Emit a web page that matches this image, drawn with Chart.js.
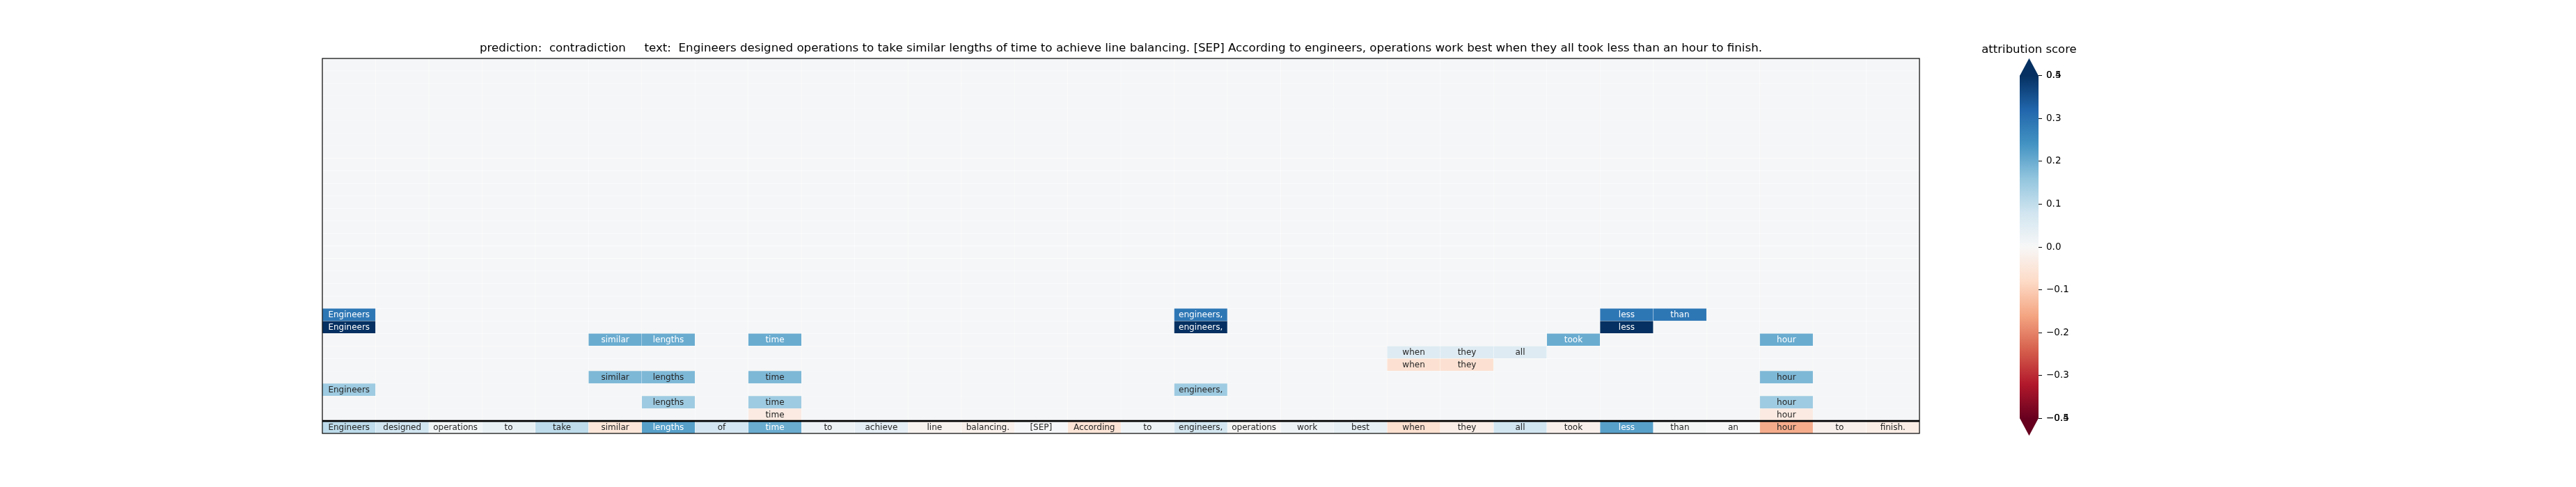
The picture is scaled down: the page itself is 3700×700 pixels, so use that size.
<!DOCTYPE html>
<html>
<head>
<meta charset="utf-8">
<script src="https://cdn.jsdelivr.net/npm/chart.js@4.4.1/dist/chart.umd.min.js"></script>
<style>
  body { margin: 0; background: #fff; }
  #main { position: absolute; left: 0; top: 0; }
  #cbar { position: absolute; left: 2800px; top: 0; }
</style>
</head>
<body>
<canvas id="main" width="3700" height="700"></canvas>
<canvas id="cbar" width="300" height="700"></canvas>
<script>
const tokens = ["Engineers", "designed", "operations", "to", "take", "similar", "lengths", "of", "time", "to",
  "achieve", "line", "balancing.", "[SEP]", "According", "to", "engineers,", "operations", "work", "best",
  "when", "they", "all", "took", "less", "than", "an", "hour", "to", "finish."];

const _ = null; // empty cell (no token shown)

// row 0 = the sentence itself, rows above = the highlighted spans
const row0 = [0.105, 0.08, 0.01, 0.03, 0.105, -0.05, 0.22, 0.074, 0.2, 0.021,
  0.04, -0.014, -0.02, 0.004, -0.055, 0.02, 0.075, -0.005, 0.022, 0.035,
  -0.065, -0.025, 0.08, -0.022, 0.22, 0.006, 0.0, -0.15, -0.022, -0.03];
const row1 = [_, _, _, _, _, _, _, _, -0.037, _, _, _, _, _, _, _, _, _, _, _, _, _, _, _, _, _, _, -0.037, _, _];
const row2 = [_, _, _, _, _, _, 0.145, _, 0.145, _, _, _, _, _, _, _, _, _, _, _, _, _, _, _, _, _, _, 0.145, _, _];
const row3 = [0.145, _, _, _, _, _, _, _, _, _, _, _, _, _, _, _, 0.145, _, _, _, _, _, _, _, _, _, _, _, _, _];
const row4 = [_, _, _, _, _, 0.18, 0.18, _, 0.18, _, _, _, _, _, _, _, _, _, _, _, _, _, _, _, _, _, _, 0.18, _, _];
const row5 = [_, _, _, _, _, _, _, _, _, _, _, _, _, _, _, _, _, _, _, _, -0.062, -0.062, _, _, _, _, _, _, _, _];
const row6 = [_, _, _, _, _, _, _, _, _, _, _, _, _, _, _, _, _, _, _, _, 0.053, 0.053, 0.053, _, _, _, _, _, _, _];
const row7 = [_, _, _, _, _, 0.2, 0.2, _, 0.2, _, _, _, _, _, _, _, _, _, _, _, _, _, _, 0.2, _, _, _, 0.2, _, _];
const row8 = [0.4, _, _, _, _, _, _, _, _, _, _, _, _, _, _, _, 0.4, _, _, _, _, _, _, _, 0.4, _, _, _, _, _];
const row9 = [0.29, _, _, _, _, _, _, _, _, _, _, _, _, _, _, _, 0.29, _, _, _, _, _, _, _, 0.29, 0.29, _, _, _, _];
const heatRows = [row0, row1, row2, row3, row4, row5, row6, row7, row8, row9];
const rowCount = 30;
const blankScore = 0.005;

const colorMin = -0.4;
const colorMax = 0.4;
const colorTicks = [-0.5, -0.4, -0.3, -0.2, -0.1, 0.0, 0.1, 0.2, 0.3, 0.4, 0.5];

const titleText = "prediction:  contradiction     text:  " + tokens.join(" ");

const rdbu = ["#67001f", "#b2182b", "#d6604d", "#f4a582", "#fddbc7", "#f7f7f7",
  "#d1e5f0", "#92c5de", "#4393c3", "#2166ac", "#053061"];
const rdbuRgb = rdbu.map((h) => [1, 3, 5].map((i) => parseInt(h.slice(i, i + 2), 16)));

function scoreColor(v) {
  let t = (v - colorMin) / (colorMax - colorMin);
  t = Math.min(1, Math.max(0, t));
  const pos = t * (rdbu.length - 1);
  const i = Math.min(Math.floor(pos), rdbu.length - 2);
  const f = pos - i;
  const a = rdbuRgb[i], b = rdbuRgb[i + 1];
  return [0, 1, 2].map((k) => a[k] + (b[k] - a[k]) * f);
}
const css = (c) => "rgb(" + c.map(Math.round).join(",") + ")";

// same rule seaborn uses for annotation colour
function textColor(c) {
  const lin = c.map((x) => {
    x = x / 255;
    return x <= 0.03928 ? x / 12.92 : Math.pow((x + 0.055) / 1.055, 2.4);
  });
  const lum = 0.2126 * lin[0] + 0.7152 * lin[1] + 0.0722 * lin[2];
  return lum > 0.408 ? "#262626" : "#ffffff";
}

const datasets = [];
for (let r = 0; r < rowCount; r++) {
  const scores = heatRows[r] || [];
  datasets.push({
    label: "row " + r,
    data: tokens.map(() => [r, r + 1]),
    scores: scores,
    backgroundColor: tokens.map((t, c) => css(scoreColor(scores[c] == null ? blankScore : scores[c]))),
    borderColor: "rgba(255,255,255,0.2)",
    borderWidth: 0.5,
    borderSkipped: false,
    barPercentage: 1,
    categoryPercentage: 1,
    grouped: false,
  });
}

const cellText = {
  id: "cellText",
  afterDatasetsDraw(chart) {
    const ctx = chart.ctx;
    ctx.save();
    ctx.font = "12px 'DejaVu Sans'";
    ctx.textAlign = "center";
    ctx.textBaseline = "middle";
    chart.data.datasets.forEach((ds, r) => {
      const meta = chart.getDatasetMeta(r);
      ds.scores.forEach((v, c) => {
        if (v == null) return;
        const p = meta.data[c].getProps(["x", "y", "base"], true);
        ctx.fillStyle = textColor(scoreColor(v));
        ctx.fillText(tokens[c], p.x, (p.y + p.base) / 2 + 0.5);
      });
    });
    ctx.restore();
  },
};

const frame = {
  id: "frame",
  afterDraw(chart) {
    const { left, top, right, bottom } = chart.chartArea;
    const ctx = chart.ctx;
    const ySep = chart.scales.y.getPixelForValue(1);
    ctx.save();
    ctx.strokeStyle = "#000";
    ctx.lineWidth = 2.8;
    ctx.beginPath();
    ctx.moveTo(left, ySep);
    ctx.lineTo(right, ySep);
    ctx.stroke();
    ctx.lineWidth = 1.2;
    ctx.strokeRect(left, top, right - left, bottom - top);
    ctx.restore();
  },
};

new Chart(document.getElementById("main"), {
  type: "bar",
  data: { labels: tokens, datasets: datasets },
  options: {
    responsive: false,
    animation: false,
    layout: { padding: { left: 463, right: 943, top: 0, bottom: 77 } },
    plugins: {
      legend: { display: false },
      tooltip: { enabled: false },
      title: {
        display: true,
        text: titleText,
        fullSize: false,
        color: "#000",
        font: { family: "DejaVu Sans", size: 16.7, weight: "normal" },
        padding: { top: 60, bottom: 4 },
      },
    },
    scales: {
      x: { display: false },
      y: { display: false, min: 0, max: rowCount },
    },
  },
  plugins: [cellText, frame],
});

// colour bar
const clampScore = (v) => Math.min(colorMax, Math.max(colorMin, v));
const fmtTick = (v) => (v < 0 ? "\u2212" : "") + Math.abs(v).toFixed(1);

const cbarExtras = {
  id: "cbarExtras",
  afterDatasetsDraw(chart) {
    const { left, right, top, bottom } = chart.chartArea;
    const ctx = chart.ctx;
    const ext = (bottom - top) * 0.05;
    const mid = (left + right) / 2;
    ctx.save();
    ctx.fillStyle = rdbu[rdbu.length - 1];
    ctx.beginPath();
    ctx.moveTo(left, top + 0.5);
    ctx.lineTo(right, top + 0.5);
    ctx.lineTo(mid, top - ext);
    ctx.closePath();
    ctx.fill();
    ctx.fillStyle = rdbu[0];
    ctx.beginPath();
    ctx.moveTo(left, bottom - 0.5);
    ctx.lineTo(right, bottom - 0.5);
    ctx.lineTo(mid, bottom + ext);
    ctx.closePath();
    ctx.fill();
    ctx.fillStyle = "#000";
    ctx.font = "16.5px 'DejaVu Sans'";
    ctx.textAlign = "center";
    ctx.textBaseline = "alphabetic";
    ctx.fillText("attribution score", mid, top - ext - 8.3);
    ctx.restore();
  },
};

new Chart(document.getElementById("cbar"), {
  type: "bar",
  data: {
    labels: ["score"],
    datasets: [{
      data: [[colorMin, colorMax]],
      backgroundColor: (context) => {
        const area = context.chart.chartArea;
        if (!area) return rdbu[5];
        const g = context.chart.ctx.createLinearGradient(0, area.bottom, 0, area.top);
        rdbu.forEach((h, i) => g.addColorStop(i / (rdbu.length - 1), h));
        return g;
      },
      borderWidth: 0,
      barPercentage: 1,
      categoryPercentage: 1,
    }],
  },
  options: {
    responsive: false,
    animation: false,
    layout: { padding: { left: 101, right: 112, top: 108.5, bottom: 98.5 } },
    plugins: { legend: { display: false }, tooltip: { enabled: false } },
    scales: {
      x: { display: false },
      y: {
        position: "right",
        min: colorMin,
        max: colorMax,
        afterBuildTicks: (scale) => {
          scale.ticks = colorTicks.map((v) => ({ value: clampScore(v) }));
        },
        afterFit: (scale) => { scale.width = 60; },
        ticks: {
          autoSkip: false,
          padding: 6,
          color: "#000",
          font: { family: "DejaVu Sans", size: 13.5 },
          callback: (value, index) => fmtTick(colorTicks[index]),
        },
        grid: { drawOnChartArea: false, tickLength: 5, color: "#000", lineWidth: 1 },
        border: { display: false },
      },
    },
  },
  plugins: [cbarExtras],
});
</script>
</body>
</html>
